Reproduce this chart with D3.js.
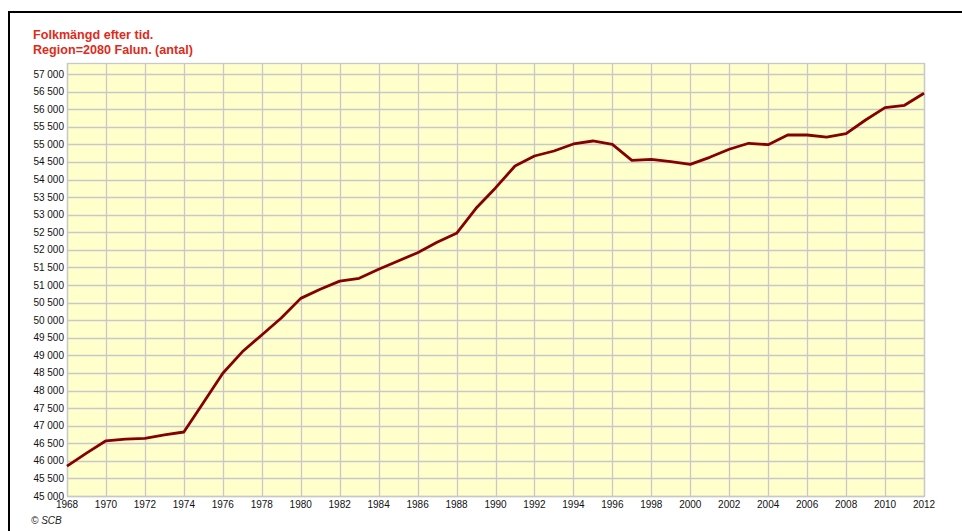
<!DOCTYPE html>
<html><head><meta charset="utf-8">
<script src="https://cdn.jsdelivr.net/npm/d3@7/dist/d3.min.js"></script>
<style>html,body{margin:0;padding:0;background:#fff;overflow:hidden}svg{display:block}</style>
</head><body>
<script>
const years = d3.range(1968, 2013);
const population = [
  45850, 46220, 46570, 46620, 46640, 46735, 46820, 47650, 48490, 49100,
  49580, 50060, 50620, 50880, 51110, 51190, 51446, 51683, 51919, 52214,
  52470, 53180, 53760, 54384, 54668, 54810, 55010, 55095, 55000, 54546,
  54575, 54506, 54432, 54631, 54860, 55030, 54990, 55265, 55265, 55208,
  55302, 55692, 56042, 56110, 56451
];
const yTicks = d3.range(45000, 57001, 500);
const xTicks = d3.range(1968, 2013, 2);
const titleLines = ["Folkmängd efter tid.", "Region=2080 Falun. (antal)"];
const credit = "© SCB";

(function () {
const W = 962, H = 531;
const svg = d3.select("body").append("svg").attr("width", W).attr("height", H);
const font = "'Liberation Sans', Arial, sans-serif";

// outer frame
svg.append("rect").attr("x", 9).attr("y", 12).attr("width", 1000).attr("height", 600)
  .attr("fill", "none").attr("stroke", "#000").attr("stroke-width", 2);

const pL = 67, pR = 924, pB = 496, pT = 63;
const x = d3.scaleLinear().domain([1968, 2012]).range([pL, pR]);
const y = d3.scaleLinear().domain([45000, 57000]).range([pB, 74]);

svg.append("rect").attr("x", pL).attr("y", pT).attr("width", pR - pL).attr("height", pB - pT)
  .attr("fill", "#ffffcc");

const g = svg.append("g");
g.selectAll("line.h").data(yTicks).join("line")
  .attr("x1", pL).attr("x2", pR).attr("y1", d => Math.round(y(d)) + 0.5).attr("y2", d => Math.round(y(d)) + 0.5)
  .attr("stroke", "#c8c8c8").attr("stroke-width", 1.3);
g.selectAll("line.v").data(xTicks).join("line")
  .attr("y1", pT).attr("y2", pB).attr("x1", d => Math.round(x(d)) + 0.5).attr("x2", d => Math.round(x(d)) + 0.5)
  .attr("stroke", "#c8c8c8").attr("stroke-width", 1.3);
svg.append("rect").attr("x", pL + 0.5).attr("y", pT + 0.5).attr("width", pR - pL).attr("height", pB - pT)
  .attr("fill", "none").attr("stroke", "#c8c8c8").attr("stroke-width", 1.3);

const fmt = v => d3.format(",")(v).replace(/,/g, " ");
svg.selectAll("text.yl").data(yTicks).join("text")
  .attr("x", 64).attr("y", d => y(d) + 3.5).attr("text-anchor", "end")
  .attr("font-family", font).attr("font-size", 10).attr("fill", "#111").text(fmt);
svg.selectAll("text.xl").data(xTicks).join("text")
  .attr("x", d => x(d)).attr("y", 508).attr("text-anchor", "middle")
  .attr("font-family", font).attr("font-size", 10).attr("fill", "#111").text(d => d);

const line = d3.line().x((d, i) => x(years[i])).y(d => y(d));
svg.append("path").datum(population).attr("d", line)
  .attr("fill", "none").attr("stroke", "#850000").attr("stroke-width", 2.8).attr("stroke-linejoin", "round");

svg.selectAll("text.t").data(titleLines).join("text")
  .attr("x", 33).attr("y", (d, i) => 39 + i * 15)
  .attr("font-family", font).attr("font-size", 12.6).attr("font-weight", "bold").attr("fill", "#e02a1a").text(d => d);

svg.append("text").attr("x", 31).attr("y", 524).attr("font-family", font).attr("font-size", 10)
  .attr("font-style", "italic").attr("fill", "#222").text(credit);
})();
</script>
</body></html>
